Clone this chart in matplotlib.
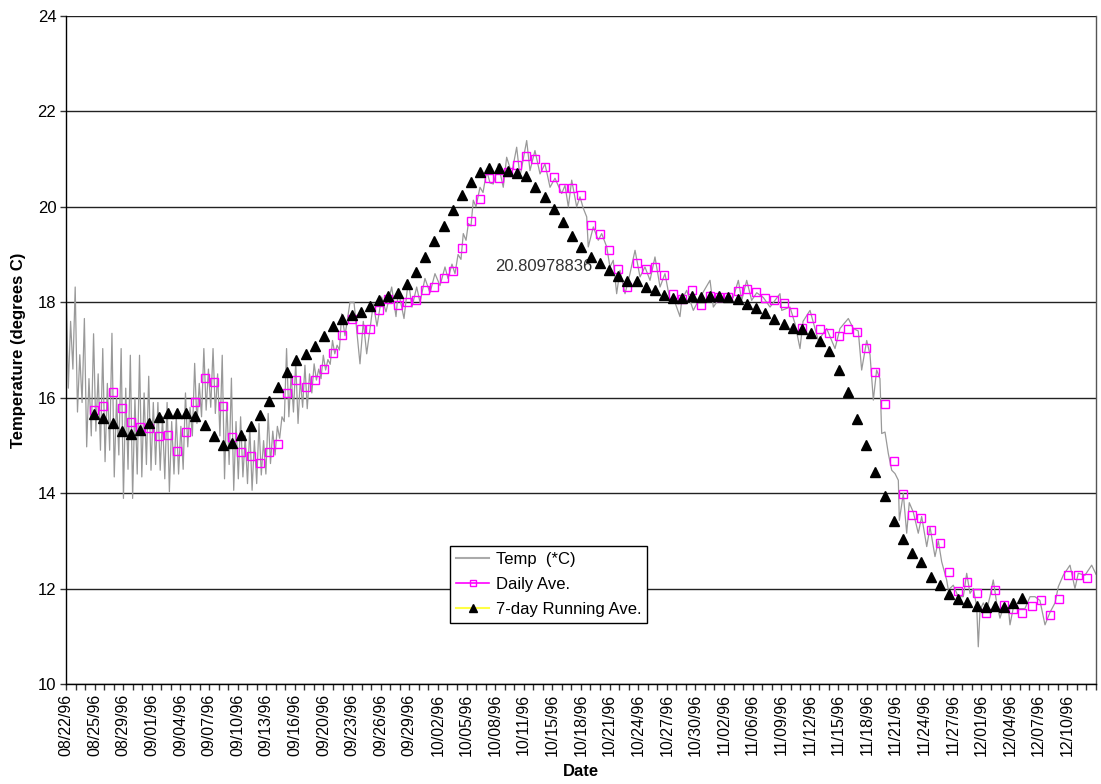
import numpy as np
import matplotlib
matplotlib.use("Agg")
import matplotlib.pyplot as plt
from matplotlib.lines import Line2D
from matplotlib.ticker import FixedLocator

plt.rcParams['font.family'] = ['Liberation Sans', 'DejaVu Sans']

# ---------------- data ----------------
# x axis: days since the first reading (08/22/96)
tick_labels = ["08/22/96", "08/25/96", "08/29/96", "09/01/96", "09/04/96", "09/07/96",
               "09/10/96", "09/13/96", "09/16/96", "09/20/96", "09/23/96", "09/26/96",
               "09/29/96", "10/02/96", "10/05/96", "10/08/96", "10/11/96", "10/15/96",
               "10/18/96", "10/21/96", "10/24/96", "10/27/96", "10/30/96", "11/02/96",
               "11/06/96", "11/09/96", "11/12/96", "11/15/96", "11/18/96", "11/21/96",
               "11/24/96", "11/27/96", "12/01/96", "12/04/96", "12/07/96", "12/10/96"]
label_step_days = 3.113          # category label interval (days)
axis_span_days = 112.08

# hourly temperature trace, early period: per day (peak, trough, 2nd peak, 2nd trough)
early_peak = [18.5, 18.32, 17.66, 17.34, 17.03, 17.35, 17.03, 16.89, 16.89, 16.45,
              15.9, 15.9, 15.6, 16.1, 16.72, 17.03, 17.03, 16.89, 16.41, 15.6,
              15.39, 15.46, 15.67, 15.4, 17.03, 16.75, 16.68, 16.71, 16.89, 17.2]
early_trough = [16.2, 15.7, 14.97, 15.3, 14.66, 14.34, 13.89, 13.89, 14.34, 14.48,
                14.48, 14.03, 14.4, 14.97, 15.46, 15.74, 15.67, 14.3, 14.06, 14.34,
                14.06, 14.38, 14.62, 15.15, 15.6, 15.46, 15.77, 16.37, 16.58, 16.92]
early_peak2 = [17.6, 16.9, 16.4, 16.5, 16.3, 16.0, 16.2, 16.0, 16.1, 15.9,
               15.6, 15.5, 15.4, 15.8, 16.3, 16.6, 16.5, 15.9, 15.5, 15.2,
               15.1, 15.1, 15.3, 15.6, 16.5, 16.4, 16.5, 16.6, 16.8, 17.1]
early_trough2 = [16.6, 15.9, 15.2, 14.9, 14.9, 14.8, 14.5, 14.4, 14.6, 14.6,
                 14.3, 14.4, 14.5, 15.2, 15.6, 15.8, 15.2, 14.6, 14.3, 14.2,
                 14.2, 14.4, 14.8, 15.5, 15.7, 15.8, 16.1, 16.4, 16.7, 17.0]

# hourly temperature trace, later period: (day, value) vertices
late_day = [30.0, 30.36, 30.90, 31.34, 31.99, 32.35, 32.72, 33.44, 33.84, 34.35, 34.82,
            35.44, 35.91, 36.16, 36.78, 37.25, 37.65, 38.16, 38.52, 39.06, 39.61, 40.15,
            40.70, 41.24, 41.57, 42.00, 42.33, 42.66, 42.98, 43.23, 43.53, 43.78, 44.07,
            44.32, 44.61, 45.05, 45.38, 45.78, 46.14, 46.50, 47.04, 47.58, 47.95, 48.50,
            49.04, 49.40, 50.13, 50.49, 51.03, 51.58, 52.12, 52.67, 53.21, 53.94, 54.30,
            54.66, 55.03, 55.57, 55.93, 56.29, 56.66, 56.83, 57.38, 57.92, 58.29, 58.84,
            59.19, 59.55, 59.92, 60.28, 60.83, 61.37, 61.92, 62.46, 63.00, 63.55, 64.09,
            64.64, 65.18, 65.72, 66.08, 66.81, 67.00, 67.54, 68.26, 68.99, 70.08, 70.44,
            71.16, 71.89, 72.61, 73.16, 73.53, 74.07, 74.61, 75.16, 75.88, 76.61, 77.15,
            77.69, 77.88, 78.78, 79.33, 79.87, 80.20, 80.96, 81.86, 82.77, 83.68, 84.22,
            85.13, 85.67, 86.21, 86.58, 87.13, 87.49, 87.85, 88.21, 88.57, 88.76, 89.12,
            89.48, 89.85, 90.21, 90.57, 90.68, 91.11, 91.48, 91.76, 92.20, 92.74, 93.11,
            93.66, 94.02, 94.56, 94.92, 95.29, 95.83, 96.01, 96.55, 97.09, 97.64, 98.01,
            98.37, 98.73, 99.10, 99.27, 99.46, 99.82, 100.18, 100.54, 100.90, 101.27,
            101.63, 101.99, 102.54, 102.72, 103.08, 103.62, 104.35, 104.90, 105.44,
            105.98, 106.53, 107.07, 107.62, 107.98, 108.52, 109.25, 109.79, 110.15,
            110.88, 111.61, 112.08]
late_temp = [17.76, 17.3, 18.0, 18.0, 16.71, 17.6, 16.92, 17.97, 17.5, 18.11, 17.8,
             18.32, 17.7, 18.25, 17.66, 18.46, 17.9, 18.32, 18.0, 18.5, 18.2, 18.6,
             18.35, 18.74, 18.5, 18.8, 18.6, 19.0, 18.9, 19.44, 19.3, 19.65, 19.6,
             20.14, 20.0, 20.41, 20.3, 20.76, 20.5, 20.48, 20.9, 20.41, 21.04, 20.7,
             21.25, 20.63, 21.39, 20.76, 21.18, 20.69, 20.9, 20.41, 20.6, 20.28, 20.45,
             20.0, 20.56, 20.0, 20.21, 19.97, 19.79, 19.16, 19.58, 19.30, 19.44, 19.16,
             18.74, 18.88, 18.18, 18.67, 18.18, 18.6, 19.09, 18.53, 18.74, 18.46, 18.95,
             18.32, 18.60, 18.04, 18.1, 17.7, 18.04, 18.25, 17.83, 18.1, 18.46, 17.9,
             18.1, 18.04, 18.1, 18.46, 18.04, 18.46, 18.04, 18.2, 18.1, 17.9, 18.04,
             18.18, 17.83, 17.9, 17.55, 17.03, 17.6, 17.83, 17.2, 17.45, 17.03, 17.45,
             17.66, 17.45, 17.4, 16.58, 17.2, 16.9, 15.95, 16.58, 16.4, 15.25, 15.28,
             14.83, 14.48, 14.41, 14.27, 13.43, 13.99, 13.16, 13.8, 13.6, 13.16, 13.51,
             12.88, 13.29, 12.67, 13.0, 12.56, 12.18, 11.97, 12.07, 11.83, 11.83, 12.32,
             11.9, 12.0, 11.62, 10.78, 11.55, 11.7, 11.55, 11.83, 12.18, 11.7,
             11.38, 11.6, 11.6, 11.24, 11.6, 11.58, 11.58, 11.83, 11.83,
             11.75, 11.24, 11.5, 11.7, 12.04, 12.28, 12.49, 12.0, 12.32,
             12.28, 12.49, 12.3]

# daily averages (first one on day 3.08, one per day)
daily_first_day = 3.08
daily_ave = [15.75, 15.82, 16.11, 15.78, 15.50, 15.39, 15.36, 15.19, 15.22, 14.89,
             15.28, 15.92, 16.41, 16.33, 15.82, 15.17, 14.87, 14.77, 14.63, 14.87,
             15.02, 16.09, 16.38, 16.23, 16.38, 16.60, 16.94, 17.32, 17.66, 17.45,
             17.45, 17.84, 18.06, 17.94, 18.01, 18.04, 18.25, 18.33, 18.50, 18.65,
             19.13, 19.71, 20.17, 20.61, 20.61, 20.74, 20.88, 21.06, 21.00, 20.83,
             20.63, 20.39, 20.39, 20.25, 19.61, 19.44, 19.10, 18.69, 18.32, 18.83,
             18.69, 18.74, 18.57, 18.18, 18.06, 18.26, 17.94, 18.14, 18.11, 18.11,
             18.23, 18.28, 18.21, 18.10, 18.04, 17.99, 17.79, 17.47, 17.67, 17.44,
             17.35, 17.30, 17.43, 17.38, 17.04, 16.53, 15.87, 14.68, 13.99, 13.54,
             13.47, 13.22, 12.95, 12.35, 11.95, 12.13, 11.91, 11.48, 11.96, 11.65,
             11.57, 11.49, 11.64, 11.77, 11.45, 11.79, 12.28, 12.28, 12.23]

# 7-day running averages (same days as the daily averages)
running_ave = [15.65, 15.58, 15.48, 15.30, 15.25, 15.32, 15.46, 15.59, 15.69, 15.69,
               15.69, 15.61, 15.43, 15.19, 15.00, 15.05, 15.21, 15.41, 15.64, 15.93,
               16.23, 16.53, 16.79, 16.92, 17.08, 17.30, 17.51, 17.64, 17.74, 17.79,
               17.92, 18.05, 18.13, 18.20, 18.38, 18.63, 18.95, 19.28, 19.60, 19.94,
               20.25, 20.53, 20.73, 20.81, 20.81, 20.75, 20.72, 20.64, 20.41, 20.20,
               19.96, 19.68, 19.38, 19.16, 18.95, 18.82, 18.67, 18.55, 18.45, 18.45,
               18.33, 18.25, 18.15, 18.08, 18.08, 18.14, 18.11, 18.14, 18.13, 18.11,
               18.07, 17.96, 17.87, 17.77, 17.64, 17.55, 17.46, 17.43, 17.36, 17.19,
               16.97, 16.58, 16.12, 15.55, 15.00, 14.45, 13.93, 13.42, 13.03, 12.75,
               12.55, 12.25, 12.07, 11.89, 11.79, 11.72, 11.63, 11.62, 11.63, 11.61,
               11.69, 11.80]

data_label_text = "20.80978836"
data_label_pos = (52.0, 18.75)

series_names = ["Temp  (*C)", "Daily Ave.", "7-day Running Ave."]

# ---------------- build series ----------------
temp_x, temp_y = [], []
for k in range(len(early_peak)):
    for off, v in zip((0.0, 0.25, 0.5, 0.75),
                      (early_peak[k], early_trough[k], early_peak2[k], early_trough2[k])):
        temp_x.append(k + off)
        temp_y.append(v)
temp_x += late_day
temp_y += late_temp

daily_x = daily_first_day + np.arange(len(daily_ave))
run_x = daily_first_day + np.arange(len(running_ave))

# ---------------- figure ----------------
fig = plt.figure(figsize=(11.01, 7.84), dpi=100)
ax = fig.add_axes([66 / 1101, 100 / 784, 1030 / 1101, 668 / 784])

ax.set_xlim(0, axis_span_days)
ax.set_ylim(10, 24)

ax.set_yticks(np.arange(10, 25, 2))
ax.yaxis.grid(True, color='#222222', linewidth=1.0)
ax.set_axisbelow(True)

ax.plot(temp_x, temp_y, color='#999999', linewidth=0.9, zorder=2)
ax.plot(daily_x, daily_ave, linestyle='none', marker='s', markersize=5.4,
        markerfacecolor='none', markeredgecolor='#FF00FF', markeredgewidth=1.0, zorder=3)
ax.plot(run_x, running_ave, linestyle='none', marker='^', markersize=7,
        markerfacecolor='black', markeredgecolor='black', zorder=4)

ax.text(data_label_pos[0], data_label_pos[1], data_label_text, ha='center', va='center',
        fontsize=12, color='#333333')

major = [k * label_step_days for k in range(len(tick_labels))]
ax.set_xticks(major)
ax.set_xticklabels(tick_labels, rotation=90, fontsize=11.5)
minor = [k * label_step_days / 3 for k in range(0, 3 * 36 + 1)]
ax.xaxis.set_minor_locator(FixedLocator(minor))
ax.tick_params(axis='x', which='both', direction='out', length=4, width=1, color='#333333', pad=3)
ax.tick_params(axis='y', which='major', direction='out', length=4, width=1, color='#333333',
               labelsize=12, pad=3)

for s in ['left', 'bottom']:
    ax.spines[s].set_color('black')
    ax.spines[s].set_linewidth(1.0)
ax.spines['top'].set_visible(False)
ax.spines['right'].set_color('#555555')
ax.spines['right'].set_linewidth(1.0)

ax.set_ylabel('Temperature (degrees C)', fontsize=12, fontweight='bold', labelpad=8)
ax.set_xlabel('Date', fontsize=12, fontweight='bold', labelpad=6)

handles = [Line2D([], [], color='#AAAAAA', linewidth=1.5),
           Line2D([], [], color='#FF00FF', linewidth=1.2, marker='s', markersize=4,
                  markerfacecolor='none', markeredgecolor='#FF00FF'),
           Line2D([], [], color='#FFFF44', linewidth=1.5, marker='^', markersize=6,
                  markerfacecolor='black', markeredgecolor='black')]
leg = ax.legend(handles, series_names, loc='upper left',
                bbox_to_anchor=((450 - 66) / 1030, (684 - 546) / 668),
                borderaxespad=0, fontsize=12, frameon=True, fancybox=False,
                edgecolor='black', framealpha=1, handlelength=2.0, handletextpad=0.4,
                labelspacing=0.6, borderpad=0.35)
leg.get_frame().set_linewidth(1.0)

fig.savefig('out.png', dpi=100, facecolor='white')
